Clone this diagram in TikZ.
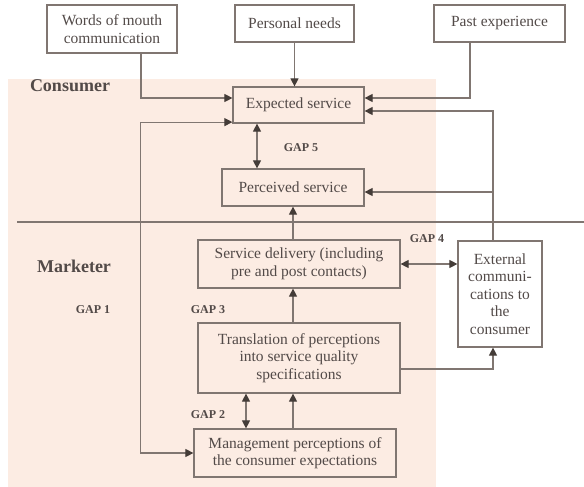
\documentclass[tikz,border=0pt]{standalone}
\usepackage{fontspec}
\setmainfont{Liberation Serif}
\usetikzlibrary{arrows.meta}
\definecolor{peach}{RGB}{252,236,227}
\definecolor{txtgray}{RGB}{82,74,72}
\definecolor{linegray}{RGB}{128,118,113}
\definecolor{tipgray}{RGB}{68,60,56}

\begin{document}
\begin{tikzpicture}[x=1pt,y=-1pt,>={Triangle[length=8pt,width=8pt,color=tipgray]},
  every node/.style={font=\fontsize{15.5}{17.5}\selectfont, text=txtgray},
  box/.style={draw=linegray, line width=1.2pt, inner sep=0pt, align=center},
  gaplabel/.style={font=\fontsize{12}{14}\selectfont\bfseries},
  sidelabel/.style={font=\fontsize{18}{20}\selectfont\bfseries},
  link/.style={draw=linegray, line width=1.1pt}]
  \useasboundingbox (0,0) rectangle (584,487);
  % Consumer side background and divider
  \fill[peach] (8,79) rectangle (436,487);
  \draw[linegray, line width=1.1pt] (17,222) -- (584,222);

  % Boxes
  \node[box, minimum width=130pt, minimum height=48pt] (words) at (112,29) {Words of mouth\\communication};
  \node[box, minimum width=119pt, minimum height=37pt] (needs) at (294.5,23.5) {Personal needs};
  \node[box, minimum width=131pt, minimum height=37pt] (past) at (499.5,23.5) {Past experience};
  \node[box, minimum width=131pt, minimum height=36pt] (exp) at (298.5,105) {Expected service};
  \node[box, minimum width=142pt, minimum height=37pt] (perc) at (293,187.5) {Perceived service};
  \node[box, minimum width=202pt, minimum height=48pt] (deliv) at (299,264) {Service delivery (including\\pre and post contacts)};
  \node[box, minimum width=202pt, minimum height=70pt] (trans) at (299,358) {Translation of perceptions\\into service quality\\specifications};
  \node[box, minimum width=202pt, minimum height=48pt] (mgmt) at (295,453) {Management perceptions of\\the consumer expectations};
  \node[box, minimum width=84pt, minimum height=106pt] (ext) at (500,294) {External\\communi-\\cations to\\the\\consumer};

  % Labels
  \node[sidelabel] (consumer) at (70,86) {Consumer};
  \node[sidelabel] (marketer) at (74,266) {Marketer};
  \node[gaplabel] (gap1) at (93,310) {GAP 1};
  \node[gaplabel] (gap2) at (208,415) {GAP 2};
  \node[gaplabel] (gap3) at (208,310) {GAP 3};
  \node[gaplabel] (gap4) at (427,239) {GAP 4};
  \node[gaplabel] (gap5) at (301,148) {GAP 5};

  % Inputs to expected service
  \draw[link,->] ([xshift=29pt]words.south) |- ([yshift=7pt]exp.west);
  \draw[link,->] (needs.south) -- (needs.south |- exp.north);
  \draw[link,->] ([xshift=-29.5pt]past.south) |- ([yshift=7pt]exp.east);
  \draw[link,->] ([xshift=-7pt]ext.north) |- ([yshift=-6pt]exp.east);
  \draw[link,->] ([xshift=-7pt]ext.north) |- ([yshift=-4.5pt]perc.east);

  % Gaps
  \draw[link,<->] ([yshift=1.5pt]exp.south west) -- ++(-92,0) |- (mgmt.west);
  \draw[link,<->] ([xshift=-41.5pt]exp.south) -- ([xshift=-41.5pt]exp.south |- perc.north);
  \draw[link,<->] ([xshift=-49pt]mgmt.north) -- ([xshift=-49pt]mgmt.north |- trans.south);
  \draw[link,<->] (deliv.east) -- (deliv.east -| ext.west);

  % Marketer flow
  \draw[link,->] ([xshift=-2pt]mgmt.north) -- ([xshift=-2pt]mgmt.north |- trans.south);
  \draw[link,->] ([xshift=-6pt]trans.north) -- ([xshift=-6pt]deliv.south);
  \draw[link,->] (perc.south |- deliv.north) -- (perc.south);
  \draw[link,->] ([yshift=-11pt]trans.east) -| ([xshift=-7pt]ext.south);
\end{tikzpicture}
\end{document}
